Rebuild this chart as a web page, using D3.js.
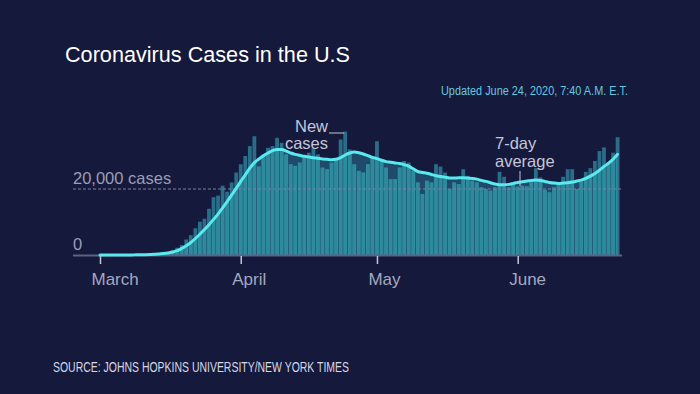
<!DOCTYPE html>
<html><head><meta charset="utf-8">
<script src="https://cdn.jsdelivr.net/npm/d3@7/dist/d3.min.js"></script>
<style>
html,body{margin:0;padding:0;background:#15193b;}
svg{display:block;}
</style></head>
<body>
<svg id="chart" width="700" height="394"></svg>
<script>
// ---- data ----
const startDate = "2020-03-01";
const dailyCases = [
  8,20,25,30,40,70,90,120,130,190,260,350,420,580,700,
  900,1400,2200,3000,4700,6000,8100,10100,11000,14000,
  17500,18000,21000,19200,22000,25000,27500,30000,33000,36000,
  26800,30500,32500,33000,35500,34000,30500,27500,27000,28000,
  29500,31000,32500,30500,26500,26000,28000,29000,35000,37400,
  32000,27500,25500,25000,27500,29500,34500,29000,26500,23000,
  23000,26500,28500,28000,25500,22000,18500,22500,22000,27500,
  26800,25000,20000,22000,21500,26000,24000,22500,22000,20500,
  20000,19500,20500,25200,23700,20500,21500,20700,21000,20800,
  22000,26300,23500,19700,19000,20500,21500,23700,26000,26000,
  20000,22200,25200,26300,28500,31500,32600,27500,31000,35700
];
const sevenDayAvg = [
  0,0,0,0,0,10,20,30,50,80,110,160,220,320,420,
  600,900,1300,2000,2800,3800,5000,6300,7700,9200,
  10800,12400,14300,16200,18200,20200,22300,24300,26300,28000,
  29100,30100,30900,31600,32000,32000,31500,30900,30500,30200,
  29900,29700,29500,29300,29100,29000,28900,29000,29500,30300,
  30900,31200,31000,30600,30100,29600,29200,28700,28300,28100,
  27900,27700,27400,26900,26100,25300,25000,24800,24400,24000,
  23800,23600,23300,23300,23400,23400,23300,23200,23000,22600,
  22300,21900,21500,21300,21300,21400,21700,22000,22200,22400,
  22600,22700,22600,22300,22000,21800,21700,21800,21900,22100,
  22400,22700,23200,23900,24700,25700,26800,27800,29000,30500
];
const monthTicks = ["2020-03-01","2020-04-01","2020-05-01","2020-06-01"];
const monthLabels = ["March","April","May","June"];
const yTickValues = [0, 20000];
const yTickLabels = ["0", "20,000 cases"];
const titleText = "Coronavirus Cases in the U.S";
const updatedText = "Updated June 24, 2020, 7:40 A.M. E.T.";
const sourceText = "SOURCE: JOHNS HOPKINS UNIVERSITY/NEW YORK TIMES";
const annoNew = ["New", "cases"];
const annoAvg = ["7-day", "average"];

// ---- build ----
const parse = d3.utcParse("%Y-%m-%d");
const t0 = parse(startDate);
const days = dailyCases.map((v,i)=>({date:d3.utcDay.offset(t0,i), v, avg:sevenDayAvg[i]}));

const svg = d3.select("#chart");
const x = d3.scaleUtc().domain([t0, days[days.length-1].date]).range([100, 617.6]);
const y = d3.scaleLinear().domain([0, 20000]).range([255, 189]);
const step = x(d3.utcDay.offset(t0,1)) - x(t0);
const bw = step*0.84;

const FONT = "'Liberation Sans', Arial, sans-serif";

svg.append("rect").attr("width",700).attr("height",394).attr("fill","#15193b");

// title & subtitle
svg.append("text").attr("x",65).attr("y",62).attr("fill","#ffffff")
  .attr("font-family",FONT).attr("font-size",22.5)
  .attr("textLength",285).attr("lengthAdjust","spacingAndGlyphs").text(titleText);
svg.append("text").attr("x",441).attr("y",95).attr("fill","#63c9e2")
  .attr("font-family",FONT).attr("font-size",12.5)
  .attr("textLength",187).attr("lengthAdjust","spacingAndGlyphs").text(updatedText);

// area under average
const area = d3.area().x(d=>x(d.date)).y0(y(0)).y1(d=>y(d.avg)).curve(d3.curveMonotoneX);
const defs = svg.append("defs");
defs.append("clipPath").attr("id","under").append("path").attr("d", area(days));

svg.append("path").attr("d", area(days)).attr("fill","#1f4a6a");

// bars (above-line color)
const barG = svg.append("g");
barG.selectAll("rect").data(days.filter(d=>d.v>0)).join("rect")
  .attr("x",d=>x(d.date)-bw/2).attr("width",bw)
  .attr("y",d=>y(d.v)).attr("height",d=>y(0)-y(d.v))
  .attr("fill","#2a6d88");
// bars (below-line color)
const barG2 = svg.append("g").attr("clip-path","url(#under)");
barG2.selectAll("rect").data(days.filter(d=>d.v>0)).join("rect")
  .attr("x",d=>x(d.date)-bw/2).attr("width",bw)
  .attr("y",d=>y(d.v)).attr("height",d=>y(0)-y(d.v))
  .attr("fill","#2e8a9d");

// y gridline (20,000 dashed) and baseline
svg.append("line").attr("x1",73).attr("x2",622).attr("y1",y(20000)).attr("y2",y(20000))
  .attr("stroke","#7d819e").attr("stroke-width",1).attr("stroke-dasharray","3,2");
svg.append("line").attr("x1",73).attr("x2",622).attr("y1",y(0)+0.5).attr("y2",y(0)+0.5)
  .attr("stroke","#5d6183").attr("stroke-width",2);

// y labels
svg.selectAll("text.ylab").data(yTickValues).join("text").attr("class","ylab")
  .attr("x",73).attr("y",d=>y(d)-5.5).attr("fill","#9a9eb8")
  .attr("font-family",FONT).attr("font-size",16.5).text((d,i)=>yTickLabels[i]);

// x axis ticks & labels
const xAxis = d3.axisBottom(x).tickValues(monthTicks.map(parse)).tickSize(8).tickFormat((d,i)=>monthLabels[i]);
const gx = svg.append("g").attr("transform",`translate(0,${y(0)+1})`).call(xAxis);
gx.select(".domain").remove();
gx.selectAll(".tick line").attr("stroke","#c3c6d6").attr("stroke-width",1.5);
gx.selectAll(".tick text").attr("fill","#a4a8c0").attr("font-family",FONT).attr("font-size",17)
  .attr("text-anchor","start").attr("x",-9).attr("y",17).attr("dy","0.71em");

// 7-day average line
const line = d3.line().x(d=>x(d.date)).y(d=>y(d.avg)).curve(d3.curveMonotoneX);
svg.append("path").attr("d", line(days)).attr("fill","none")
  .attr("stroke","#58eaee").attr("stroke-width",3).attr("stroke-linejoin","round").attr("stroke-linecap","round");

// annotations
const annoColor = "#c4c7da";
const a1 = svg.append("g").attr("font-family",FONT).attr("font-size",16.5).attr("fill",annoColor).attr("text-anchor","end");
a1.append("text").attr("x",328).attr("y",132).text(annoNew[0]);
a1.append("text").attr("x",328).attr("y",149).text(annoNew[1]);
svg.append("line").attr("x1",329).attr("x2",x(parse("2020-04-24"))-1).attr("y1",133).attr("y2",133)
  .attr("stroke",annoColor).attr("stroke-width",1);

const a2 = svg.append("g").attr("font-family",FONT).attr("font-size",16.5).attr("fill",annoColor).attr("text-anchor","start");
a2.append("text").attr("x",495).attr("y",149).text(annoAvg[0]);
a2.append("text").attr("x",495).attr("y",167).text(annoAvg[1]);
svg.append("line").attr("x1",520).attr("x2",520).attr("y1",171).attr("y2",186)
  .attr("stroke",annoColor).attr("stroke-width",1);

// source
svg.append("text").attr("x",53).attr("y",372).attr("fill","#d6d8e6")
  .attr("font-family",FONT).attr("font-size",14)
  .attr("textLength",296).attr("lengthAdjust","spacingAndGlyphs").text(sourceText);
</script>
</body></html>
